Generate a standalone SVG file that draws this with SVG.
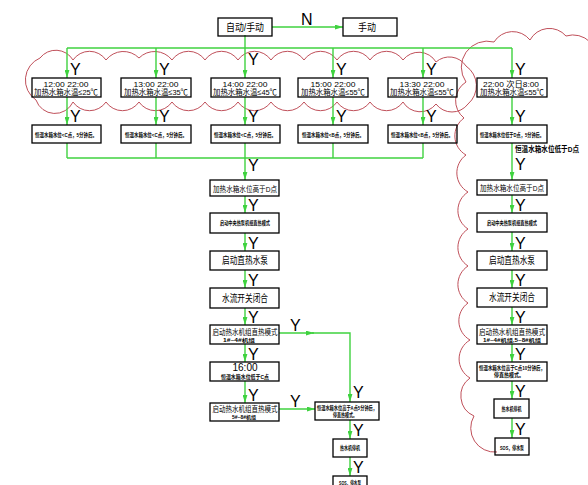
<svg xmlns="http://www.w3.org/2000/svg" width="588" height="485" viewBox="0 0 588 485">
<style>
.b{fill:none;stroke:#000;stroke-width:1.3}
.c{stroke:#3fd23f;stroke-width:1.4;fill:none}
.a{marker-end:url(#ah)}
.cl{fill:none;stroke:#c0505a;stroke-width:1}
text{font-family:"Liberation Sans","Noto Sans CJK SC",sans-serif;fill:#000;text-anchor:middle}
.y{font-size:16px;text-anchor:start}
.t9{font-size:9px}
.t8{font-size:8px}
.t10{font-size:10px}
.t75{font-size:7.5px}
.t6{font-size:5.5px;font-weight:bold}
.t5{font-size:5px;font-weight:bold}
</style>
<defs>
<marker id="ah" viewBox="0 0 10 6" refX="10" refY="3" markerWidth="8" markerHeight="5" orient="auto" markerUnits="userSpaceOnUse">
<path d="M0,0 L10,3 L0,6 z" fill="#3fd23f"/>
</marker>
</defs>

<g id="clouds">
<path class="cl" d="M36,100 A24 24 0 0 1 40,58 A20 20 0 0 1 73,60 A20 20 0 0 1 106,60 A22 22 0 0 1 139,58 A22 22 0 0 1 172,60 A20 20 0 0 1 205,60 A20 20 0 0 1 238,60 A20 20 0 0 1 271,60 A20 20 0 0 1 304,60 A20 20 0 0 1 337,60 A20 20 0 0 1 370,60 A20 20 0 0 1 403,60 A20 20 0 0 1 436,62 A20 20 0 0 1 466,66 A24 24 0 0 1 468,104 A20 20 0 0 1 436,104 A20 20 0 0 1 403,102 A20 20 0 0 1 370,102 A20 20 0 0 1 337,102 A20 20 0 0 1 304,102 A20 20 0 0 1 271,102 A20 20 0 0 1 238,102 A20 20 0 0 1 205,102 A20 20 0 0 1 172,102 A20 20 0 0 1 139,102 A20 20 0 0 1 106,102 A20 20 0 0 1 73,102 A20 20 0 0 1 36,100 Z"/>
<path class="cl" d="M497,452 A24 24 0 0 1 474,416 A22 22 0 0 1 470,378 A22 22 0 0 1 470,340 A22 22 0 0 1 468,303 A22 22 0 0 1 468,266 A22 22 0 0 1 468,229 A22 22 0 0 1 468,192 A22 22 0 0 1 466,155 A22 22 0 0 1 464,118 A22 22 0 0 1 466,82 A26 26 0 0 1 494,42 A22 22 0 0 1 530,40 A22 22 0 0 1 566,36 A24 24 0 0 1 596,66"/>
</g>

<g id="connectors">
<line class="c a" x1="272" y1="27" x2="343" y2="27"/>
<line class="c a" x1="245" y1="35" x2="245" y2="78"/>
<line class="c" x1="67" y1="48" x2="512" y2="48"/>
<line class="c a" x1="67" y1="48" x2="67" y2="78"/>
<line class="c a" x1="156" y1="48" x2="156" y2="78"/>
<line class="c a" x1="333" y1="48" x2="333" y2="78"/>
<line class="c a" x1="423" y1="48" x2="423" y2="78"/>
<line class="c a" x1="512" y1="48" x2="512" y2="78"/>
<line class="c a" x1="67" y1="97" x2="67" y2="125"/>
<line class="c a" x1="156" y1="97" x2="156" y2="125"/>
<line class="c a" x1="245" y1="97" x2="245" y2="125"/>
<line class="c a" x1="333" y1="97" x2="333" y2="125"/>
<line class="c a" x1="423" y1="97" x2="423" y2="125"/>
<line class="c a" x1="512" y1="97" x2="512" y2="125"/>
<line class="c" x1="67" y1="143" x2="67" y2="158"/>
<line class="c" x1="156" y1="143" x2="156" y2="158"/>
<line class="c" x1="245" y1="143" x2="245" y2="158"/>
<line class="c" x1="333" y1="143" x2="333" y2="158"/>
<line class="c" x1="423" y1="143" x2="423" y2="158"/>
<line class="c" x1="67" y1="158" x2="423" y2="158"/>
<line class="c a" x1="245" y1="158" x2="245" y2="180"/>
<line class="c a" x1="245" y1="196" x2="245" y2="213"/>
<line class="c a" x1="245" y1="233" x2="245" y2="251"/>
<line class="c a" x1="245" y1="270" x2="245" y2="288"/>
<line class="c a" x1="245" y1="308" x2="245" y2="325"/>
<line class="c a" x1="245" y1="344" x2="245" y2="362"/>
<line class="c a" x1="245" y1="381" x2="245" y2="403"/>
<line class="c a" x1="279" y1="333" x2="314" y2="333"/>
<path class="c a" d="M312,333 L350,333 L350,402"/>
<line class="c a" x1="279" y1="409" x2="315" y2="409"/>
<line class="c a" x1="350" y1="420" x2="350" y2="439"/>
<line class="c a" x1="350" y1="457" x2="350" y2="476"/>
<line class="c a" x1="512" y1="143" x2="512" y2="180"/>
<line class="c a" x1="512" y1="195" x2="512" y2="213"/>
<line class="c a" x1="512" y1="232" x2="512" y2="251"/>
<line class="c a" x1="512" y1="270" x2="512" y2="288"/>
<line class="c a" x1="512" y1="307" x2="512" y2="325"/>
<line class="c a" x1="512" y1="344" x2="512" y2="362"/>
<line class="c a" x1="512" y1="381" x2="512" y2="399"/>
<line class="c a" x1="512" y1="418" x2="512" y2="438"/>
</g>

<g id="labels">
<text x="301" y="25" class="y">N</text>
<text x="248" y="65" class="y">Y</text>
<text x="70" y="75" class="y">Y</text>
<text x="159" y="75" class="y">Y</text>
<text x="336" y="75" class="y">Y</text>
<text x="426" y="75" class="y">Y</text>
<text x="515" y="75" class="y">Y</text>
<text x="70" y="122" class="y">Y</text>
<text x="159" y="122" class="y">Y</text>
<text x="248" y="122" class="y">Y</text>
<text x="336" y="122" class="y">Y</text>
<text x="426" y="122" class="y">Y</text>
<text x="515" y="122" class="y">Y</text>
<text x="248" y="171" class="y">Y</text>
<text x="248" y="211" class="y">Y</text>
<text x="248" y="249" class="y">Y</text>
<text x="248" y="286" class="y">Y</text>
<text x="248" y="323" class="y">Y</text>
<text x="248" y="360" class="y">Y</text>
<text x="248" y="401" class="y">Y</text>
<text x="290" y="331" class="y">Y</text>
<text x="290" y="407" class="y">Y</text>
<text x="353" y="398" class="y">Y</text>
<text x="353" y="436" class="y">Y</text>
<text x="353" y="473" class="y">Y</text>
<text x="515" y="170" class="y">Y</text>
<text x="515" y="211" class="y">Y</text>
<text x="515" y="249" class="y">Y</text>
<text x="515" y="286" class="y">Y</text>
<text x="515" y="323" class="y">Y</text>
<text x="515" y="360" class="y">Y</text>
<text x="515" y="397" class="y">Y</text>
<text x="515" y="435" class="y">Y</text>
<text x="515" y="152" class="t75" style="text-anchor:start" textLength="64" lengthAdjust="spacingAndGlyphs" font-weight="bold">恒温水箱水位低于D点</text>
</g>

<g id="n-auto"><rect class="b" x="218" y="18" width="54" height="18"/><text x="245" y="31" class="t10" textLength="38" lengthAdjust="spacingAndGlyphs">自动/手动</text></g>
<g id="n-manual"><rect class="b" x="343" y="18" width="54" height="18"/><text x="358" y="31" class="t10" textLength="18" lengthAdjust="spacingAndGlyphs" style="text-anchor:start">手动</text></g>

<g id="n-t1"><rect class="b" x="32" y="78" width="69" height="19"/><text x="66" y="86.5" class="t8" textLength="45" lengthAdjust="spacingAndGlyphs">12:00  22:00</text><text x="66" y="95" class="t8" textLength="64" lengthAdjust="spacingAndGlyphs">加热水箱水温≤25℃</text></g>
<g id="n-t2"><rect class="b" x="121" y="78" width="70" height="19"/><text x="156" y="86.5" class="t8" textLength="45" lengthAdjust="spacingAndGlyphs">13:00  22:00</text><text x="156" y="95" class="t8" textLength="64" lengthAdjust="spacingAndGlyphs">加热水箱水温≤35℃</text></g>
<g id="n-t3"><rect class="b" x="211" y="78" width="69" height="19"/><text x="245" y="86.5" class="t8" textLength="45" lengthAdjust="spacingAndGlyphs">14:00  22:00</text><text x="245" y="95" class="t8" textLength="64" lengthAdjust="spacingAndGlyphs">加热水箱水温≤45℃</text></g>
<g id="n-t4"><rect class="b" x="298" y="78" width="70" height="19"/><text x="333" y="86.5" class="t8" textLength="45" lengthAdjust="spacingAndGlyphs">15:00  22:00</text><text x="333" y="95" class="t8" textLength="64" lengthAdjust="spacingAndGlyphs">加热水箱水温≤55℃</text></g>
<g id="n-t5"><rect class="b" x="388" y="78" width="69" height="19"/><text x="422" y="86.5" class="t8" textLength="45" lengthAdjust="spacingAndGlyphs">13:30  22:00</text><text x="422" y="95" class="t8" textLength="64" lengthAdjust="spacingAndGlyphs">加热水箱水温≤55℃</text></g>
<g id="n-t6"><rect class="b" x="477" y="78" width="70" height="19"/><text x="511" y="86.5" class="t8" textLength="56" lengthAdjust="spacingAndGlyphs">22:00  次日8:00</text><text x="512" y="95" class="t8" textLength="64" lengthAdjust="spacingAndGlyphs">加热水箱水温≤55℃</text></g>

<g id="n-c1"><rect class="b" x="32" y="125" width="69" height="18"/><text x="66" y="136.5" class="t6" textLength="62" lengthAdjust="spacingAndGlyphs">恒温水箱水位&lt;C点，5分钟后。</text></g>
<g id="n-c2"><rect class="b" x="121" y="125" width="70" height="18"/><text x="156" y="136.5" class="t6" textLength="62" lengthAdjust="spacingAndGlyphs">恒温水箱水位&lt;C点，5分钟后。</text></g>
<g id="n-c3"><rect class="b" x="211" y="125" width="69" height="18"/><text x="245" y="136.5" class="t6" textLength="62" lengthAdjust="spacingAndGlyphs">恒温水箱水位&lt;C点，5分钟后。</text></g>
<g id="n-c4"><rect class="b" x="298" y="125" width="70" height="18"/><text x="333" y="136.5" class="t6" textLength="62" lengthAdjust="spacingAndGlyphs">恒温水箱水位&lt;B点，5分钟后。</text></g>
<g id="n-c5"><rect class="b" x="388" y="125" width="69" height="18"/><text x="422" y="136.5" class="t6" textLength="62" lengthAdjust="spacingAndGlyphs">恒温水箱水位&lt;B点，5分钟后。</text></g>
<g id="n-c6"><rect class="b" x="477" y="125" width="70" height="18"/><text x="512" y="136.5" class="t6" textLength="64" lengthAdjust="spacingAndGlyphs">恒温水箱水位低于D点，5分钟后。</text></g>

<g id="n-m1"><rect class="b" x="210" y="180" width="69" height="16"/><text x="245" y="191.5" class="t8" textLength="64" lengthAdjust="spacingAndGlyphs">加热水箱水位高于D点</text></g>
<g id="n-m2"><rect class="b" x="210" y="213" width="69" height="20"/><text x="245" y="225" class="t6" textLength="50" lengthAdjust="spacingAndGlyphs">启动中央热泵机组直热模式</text></g>
<g id="n-m3"><rect class="b" x="210" y="251" width="69" height="19"/><text x="245" y="264" class="t10" textLength="46" lengthAdjust="spacingAndGlyphs">启动直热水泵</text></g>
<g id="n-m4"><rect class="b" x="210" y="288" width="69" height="20"/><text x="245" y="301.5" class="t10" textLength="46" lengthAdjust="spacingAndGlyphs">水流开关闭合</text></g>
<g id="n-m5"><rect class="b" x="210" y="325" width="69" height="19"/><text x="245" y="335" class="t75" textLength="65" lengthAdjust="spacingAndGlyphs">启动热水机组直热模式</text><text x="239" y="342" class="t5" textLength="32" lengthAdjust="spacingAndGlyphs">1#~4#机组</text></g>
<g id="n-m6"><rect class="b" x="210" y="362" width="69" height="19"/><text x="245" y="371" class="t10">16:00</text><text x="245" y="378.5" class="t6" textLength="48" lengthAdjust="spacingAndGlyphs">恒温水箱水位低于C点</text></g>
<g id="n-m7"><rect class="b" x="210" y="403" width="69" height="18"/><text x="245" y="412" class="t75" textLength="65" lengthAdjust="spacingAndGlyphs">启动热水机组直热模式</text><text x="244" y="419" class="t5" textLength="24" lengthAdjust="spacingAndGlyphs">5#~8#机组</text></g>
<g id="n-m8"><rect class="b" x="315" y="402" width="64" height="18"/><text x="347" y="409.5" class="t6" textLength="60" lengthAdjust="spacingAndGlyphs">恒温水箱水位高于A点5分钟后，</text><text x="345" y="416.5" class="t6" textLength="24" lengthAdjust="spacingAndGlyphs">停直热模式。</text></g>
<g id="n-m9"><rect class="b" x="333" y="439" width="34" height="18"/><text x="350" y="450" class="t6" textLength="20" lengthAdjust="spacingAndGlyphs">热水机停机</text></g>
<g id="n-m10"><rect class="b" x="333" y="476" width="34" height="16"/><text x="350" y="485" class="t6" textLength="22" lengthAdjust="spacingAndGlyphs">SOS，停水泵</text></g>

<g id="n-r1"><rect class="b" x="477" y="180" width="70" height="15"/><text x="512" y="191" class="t8" textLength="64" lengthAdjust="spacingAndGlyphs">加热水箱水位高于D点</text></g>
<g id="n-r2"><rect class="b" x="477" y="213" width="70" height="19"/><text x="512" y="225" class="t6" textLength="50" lengthAdjust="spacingAndGlyphs">启动中央热泵机组直热模式</text></g>
<g id="n-r3"><rect class="b" x="477" y="251" width="70" height="19"/><text x="512" y="264" class="t10" textLength="46" lengthAdjust="spacingAndGlyphs">启动直热水泵</text></g>
<g id="n-r4"><rect class="b" x="477" y="288" width="70" height="19"/><text x="512" y="301" class="t10" textLength="46" lengthAdjust="spacingAndGlyphs">水流开关闭合</text></g>
<g id="n-r5"><rect class="b" x="477" y="325" width="70" height="19"/><text x="512" y="335" class="t75" textLength="66" lengthAdjust="spacingAndGlyphs">启动热水机组直热模式</text><text x="512" y="342" class="t5" textLength="58" lengthAdjust="spacingAndGlyphs">1#~4#机组,5~8#机组</text></g>
<g id="n-r6"><rect class="b" x="477" y="362" width="70" height="19"/><text x="512" y="369.5" class="t6" textLength="66" lengthAdjust="spacingAndGlyphs">恒温水箱水位高于C点10分钟后，</text><text x="509" y="377" class="t6" textLength="30" lengthAdjust="spacingAndGlyphs">停直热模式。</text></g>
<g id="n-r7"><rect class="b" x="494" y="399" width="35" height="19"/><text x="511.5" y="410.5" class="t6" textLength="20" lengthAdjust="spacingAndGlyphs">热水机停机</text></g>
<g id="n-r8"><rect class="b" x="495" y="438" width="34" height="17"/><text x="512" y="449.5" class="t6" textLength="24" lengthAdjust="spacingAndGlyphs">SOS，停水泵</text></g>
</svg>
